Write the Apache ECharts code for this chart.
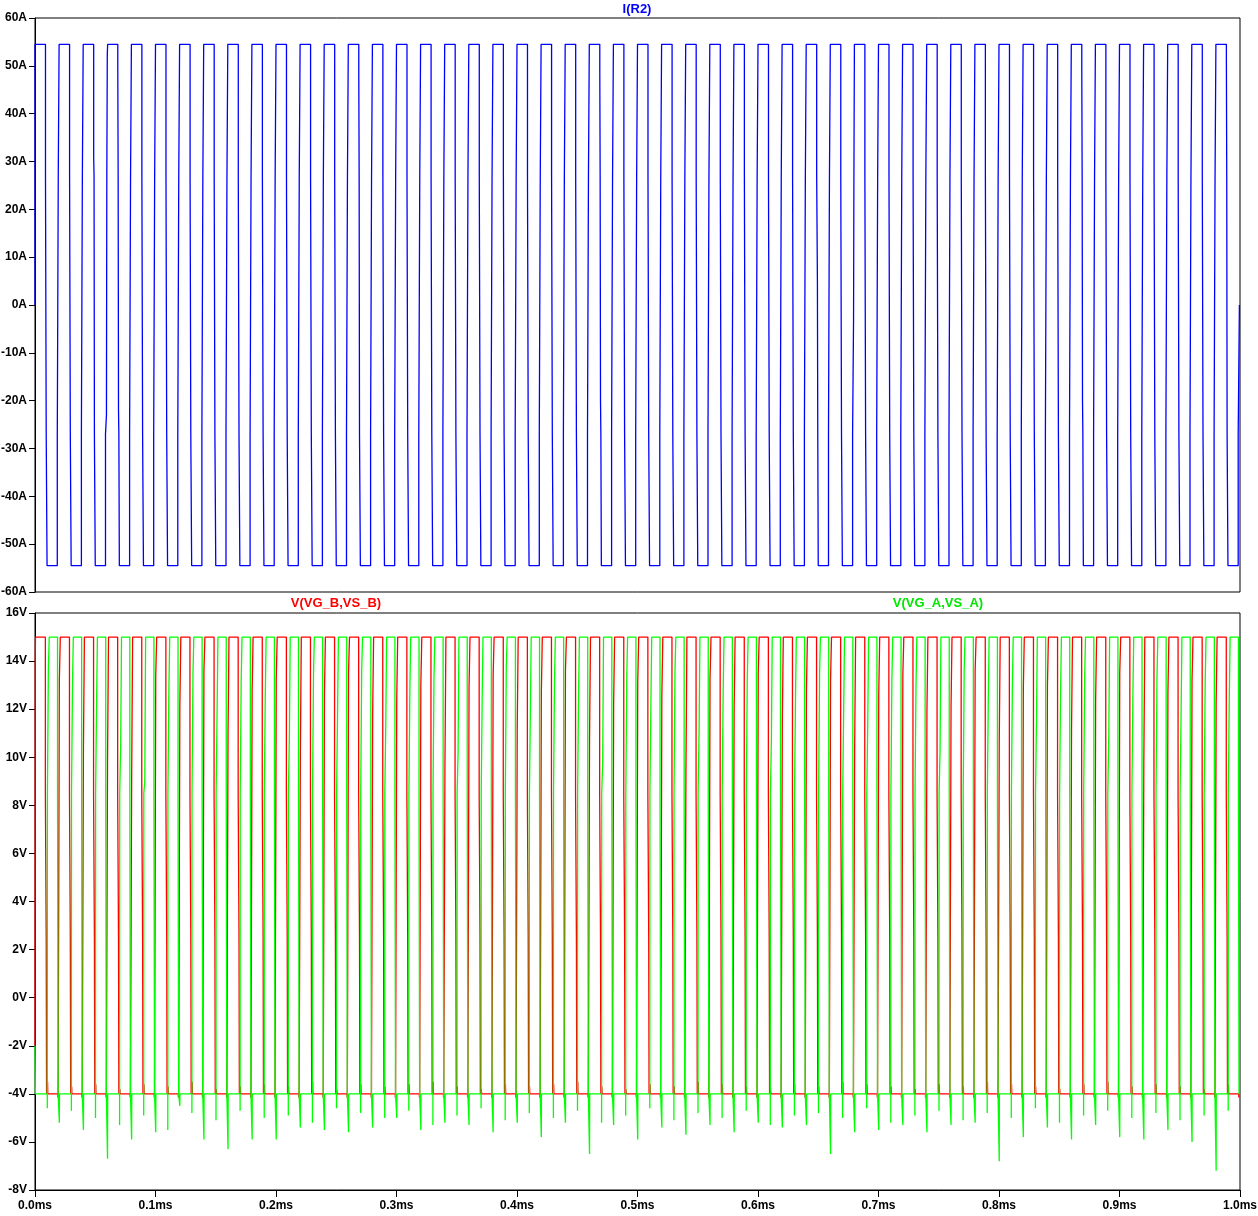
<!DOCTYPE html>
<html><head><meta charset="utf-8">
<script src="https://cdn.jsdelivr.net/npm/echarts@6/dist/echarts.min.js"></script>
<style>html,body{margin:0;padding:0;background:#fff}#c{width:1258px;height:1216px}</style>
</head><body><div id="c"></div>
<script>
// ---------- data (time in ms) ----------
const xTicks = [0,0.1,0.2,0.3,0.4,0.5,0.6,0.7,0.8,0.9,1.0];
const periodStart = [0.00,0.02,0.04,0.06,0.08,0.10,0.12,0.14,0.16,0.18,0.20,0.22,0.24,0.26,0.28,0.30,0.32,0.34,0.36,0.38,0.40,0.42,0.44,0.46,0.48,0.50,0.52,0.54,0.56,0.58,0.60,0.62,0.64,0.66,0.68,0.70,0.72,0.74,0.76,0.78,0.80,0.82,0.84,0.86,0.88,0.90,0.92,0.94,0.96,0.98];

// I(R2): current levels and edge times
const iLevels = [54.5, 27, -27, -54.5];
const iFall = [0.0087,0.0287,0.0487,0.0687,0.0887,0.1087,0.1287,0.1487,0.1687,0.1887,0.2087,0.2287,0.2487,0.2687,0.2887,0.3087,0.3287,0.3487,0.3687,0.3887,0.4087,0.4287,0.4487,0.4687,0.4887,0.5087,0.5287,0.5487,0.5687,0.5887,0.6087,0.6287,0.6487,0.6687,0.6887,0.7087,0.7287,0.7487,0.7687,0.7887,0.8087,0.8287,0.8487,0.8687,0.8887,0.9087,0.9287,0.9487,0.9687,0.9887];
const iRise = [0.02,0.04,0.06,0.08,0.10,0.12,0.14,0.16,0.18,0.20,0.22,0.24,0.26,0.28,0.30,0.32,0.34,0.36,0.38,0.40,0.42,0.44,0.46,0.48,0.50,0.52,0.54,0.56,0.58,0.60,0.62,0.64,0.66,0.68,0.70,0.72,0.74,0.76,0.78,0.80,0.82,0.84,0.86,0.88,0.90,0.92,0.94,0.96,0.98];
const iStartValue = 0;
const iTailT = [0.9985, 0.9995];
const iTailV = [-27, 0];
// small kinks on some edges: [period, edge, level in A]
const iGlitches = [[2,'fall',31],[3,'rise',52.5],[3,'fall',50],[3,'rise',-23],[3,'fall',-22],[13,'fall',48],[23,'fall',49],[23,'fall',-20],[32,'fall',5],[34,'rise',-3],[43,'fall',49],[43,'fall',-20],[49,'fall',51]];

// gate voltages
const vHigh = 15, vLow = -4, vMiller = 8.5, vMid = 2.5, vStart = -2;
const rStep = [14,13.2,10.5,9.9,9.0,13.4,12.1,13.6,11.0,12.8,13.3,10.1,12.6,13.5,11.7,12.4,13.0,9.6,12.9,13.4,11.3,12.7,13.6,10.8,12.2,13.1,12.5,9.4,13.3,12.0,13.5,11.6,12.8,13.2,10.3,12.6,13.4,11.9,12.1,13.6,10.6,12.9,13.0,11.2,12.4,13.5,9.8,12.7,13.2,12.3];
const rBump = [-3.5,-3.7,-3.6,-3.8,-3.6,-3.7,-3.5,-3.8,-3.7,-3.6,-3.7,-3.5,-3.8,-3.6,-3.7,-3.6,-3.5,-3.7,-3.8,-3.6,-3.7,-3.6,-3.5,-3.7,-3.8,-3.6,-3.7,-3.5,-3.6,-3.7,-3.8,-3.6,-3.7,-3.5,-3.6,-3.7,-3.8,-3.6,-3.7,-3.5,-3.6,-3.7,-3.8,-3.6,-3.5,-3.7,-3.6,-3.7,-3.8,-3.6];
const gStep = [13.7,13.0,12.3,10.5,9.0,12.8,13.5,11.8,13.2,12.6,10.9,13.4,12.0,13.6,11.4,12.9,13.3,10.2,12.5,13.7,11.9,13.1,12.7,9.8,13.4,12.2,13.6,11.1,12.8,13.3,10.7,12.4,13.5,12.0,11.6,13.2,12.9,10.4,13.6,12.3,13.0,11.5,12.7,13.4,10.9,12.6,13.3,11.8,13.1,12.5];
const gDipA = [-4.6,-4.7,-5.0,-5.3,-4.9,-5.5,-4.8,-5.1,-4.7,-5.0,-4.9,-5.2,-4.6,-4.8,-5.0,-4.7,-5.3,-4.9,-4.6,-5.1,-4.8,-5.0,-4.7,-5.2,-4.9,-4.6,-5.1,-4.8,-5.0,-4.7,-5.3,-4.9,-4.8,-5.0,-4.6,-5.2,-4.9,-4.7,-5.1,-4.8,-5.0,-4.6,-5.2,-4.9,-4.7,-5.0,-4.8,-5.1,-4.9,-4.7];
const gDipB = [-4,-5.2,-5.5,-6.7,-5.9,-5.6,-4.5,-5.9,-6.3,-5.9,-5.9,-5.4,-5.5,-5.6,-5.4,-5.0,-5.5,-5.2,-5.3,-5.6,-5.2,-5.8,-5.2,-6.5,-5.3,-5.9,-5.4,-5.7,-5.3,-5.6,-5.2,-5.4,-5.3,-6.5,-5.6,-5.5,-5.3,-5.6,-5.3,-5.2,-6.8,-5.8,-5.4,-5.9,-5.3,-5.8,-5.9,-5.5,-6.0,-7.2];

// ---------- build step paths ----------
function stepper(v0){
  const pts=[[0,v0]]; let v=v0;
  return {pts, go(t,lv){pts.push([t,v]);pts.push([t,lv]);v=lv;}};
}
function withGlitches(steps, startV, k, edge){
  iGlitches.forEach(g=>{
    if(g[0]!==k||g[1]!==edge) return;
    const L=g[2]; let prev=startV;
    for(let i=0;i<steps.length;i++){
      const lo=Math.min(prev,steps[i][1]), hi=Math.max(prev,steps[i][1]);
      if(L>lo&&L<hi){ const t=steps[i][0]; steps.splice(i,0,[t,L]); steps[i+1]=[t+0.0003,steps[i+1][1]]; break; }
      prev=steps[i][1];
    }
  });
  return steps;
}
const B = stepper(iStartValue);
B.go(0, iLevels[0]);
for(let k=0;k<iFall.length;k++){
  const f=iFall[k];
  withGlitches([[f,iLevels[1]],[f+0.0006,iLevels[2]],[f+0.0013,iLevels[3]]], iLevels[0], k,'fall').forEach(s=>B.go(s[0],s[1]));
  if(k<iRise.length){
    const r=iRise[k];
    withGlitches([[r-0.0015,iLevels[2]],[r-0.0007,iLevels[1]],[r,iLevels[0]]], iLevels[3], k+1,'rise').forEach(s=>B.go(s[0],s[1]));
  } else {
    iTailT.forEach((t,j)=>B.go(t,iTailV[j]));
  }
}

const R = stepper(vStart);
const G = stepper(vStart);
G.go(0.0003, vLow);
for(let k=0;k<periodStart.length;k++){
  const h=periodStart[k];
  // red (B) turn on
  R.go(h+0.0002, rStep[k]); R.go(h+(k===0?0.0004:0.001), vHigh);
  // green dip caused by red turn-on
  if(k>0){ G.go(h+0.0002, gDipB[k]); G.go(h+0.0003, vLow); }
  // red turn off
  R.go(h+0.0086, vMiller); R.go(h+0.0093, vMid); R.go(h+0.0096, vLow);
  R.go(h+0.0104, rBump[k]); R.go(h+0.0106, vLow);
  // green (A) turn on
  const g=h+0.0102;
  G.go(g, gDipA[k]); G.go(g+0.0001, vMiller); G.go(g+0.0009, gStep[k]); G.go(g+0.0016, vHigh);
  // green turn off
  G.go(h+0.0187, vMiller); G.go(h+0.0192, vLow);
  R.go(h+0.0190, -4.15); R.go(h+0.0192, vLow);
}
R.go(1.0, vLow); G.go(1.0, vLow);

// ---------- chart ----------
const labelFont = {fontFamily:'"Liberation Sans", Arial, sans-serif', fontWeight:'bold', fontSize:12, color:'#000'};
const chart = echarts.init(document.getElementById('c'), null, {renderer:'canvas'});
chart.setOption({
  animation:false,
  backgroundColor:'#fff',
  grid:[
    {left:35, top:18, right:18, height:574, containLabel:false, outerBoundsMode:'none', show:true, borderColor:'#000', borderWidth:1, backgroundColor:'transparent'},
    {left:35, top:613, right:18, height:577, containLabel:false, outerBoundsMode:'none', show:true, borderColor:'#000', borderWidth:1, backgroundColor:'transparent'}
  ],
  xAxis:[
    {gridIndex:0, type:'value', min:0, max:1, interval:0.1, axisLine:{show:false, onZero:false}, axisTick:{show:false}, axisLabel:{show:false}, splitLine:{show:false}},
    {gridIndex:1, type:'value', min:0, max:1, interval:0.1,
     axisLine:{show:true, onZero:false, lineStyle:{color:'#000', width:1}},
     axisTick:{show:true, length:7, lineStyle:{color:'#000'}},
     axisLabel:Object.assign({margin:10, formatter:v=>v.toFixed(1)+'ms', showMinLabel:true, showMaxLabel:true}, labelFont),
     splitLine:{show:false}}
  ],
  yAxis:[
    {gridIndex:0, type:'value', min:-60, max:60, interval:10,
     axisLine:{show:true, onZero:false, lineStyle:{color:'#000'}}, axisTick:{show:true, length:6, lineStyle:{color:'#000'}},
     axisLabel:Object.assign({margin:8, formatter:v=>v+'A'}, labelFont), splitLine:{show:false}},
    {gridIndex:1, type:'value', min:-8, max:16, interval:2,
     axisLine:{show:true, onZero:false, lineStyle:{color:'#000'}}, axisTick:{show:true, length:6, lineStyle:{color:'#000'}},
     axisLabel:Object.assign({margin:8, formatter:v=>v+'V'}, labelFont), splitLine:{show:false}}
  ],
  series:[
    {name:'I(R2)', type:'line', xAxisIndex:0, yAxisIndex:0, data:B.pts, showSymbol:false, symbol:'none', silent:true, lineStyle:{color:'#0000ff', width:1.3}},
    {name:'V(VG_B,VS_B)', type:'line', xAxisIndex:1, yAxisIndex:1, data:R.pts, showSymbol:false, symbol:'none', silent:true, lineStyle:{color:'#ff0000', width:1.3}},
    {name:'V(VG_A,VS_A)', type:'line', xAxisIndex:1, yAxisIndex:1, data:G.pts, showSymbol:false, symbol:'none', silent:true, lineStyle:{color:'#00ff00', width:1.3}}
  ],
  graphic:[
    {type:'text', x:637, y:9, style:{text:'I(R2)', fill:'#0000ff', font:'bold 13px "Liberation Sans", Arial', align:'center', verticalAlign:'middle'}},
    {type:'text', x:336, y:603, style:{text:'V(VG_B,VS_B)', fill:'#ff0000', font:'bold 13px "Liberation Sans", Arial', align:'center', verticalAlign:'middle'}},
    {type:'text', x:938, y:603, style:{text:'V(VG_A,VS_A)', fill:'#00e600', font:'bold 13px "Liberation Sans", Arial', align:'center', verticalAlign:'middle'}}
  ]
});
</script>
</body></html>
